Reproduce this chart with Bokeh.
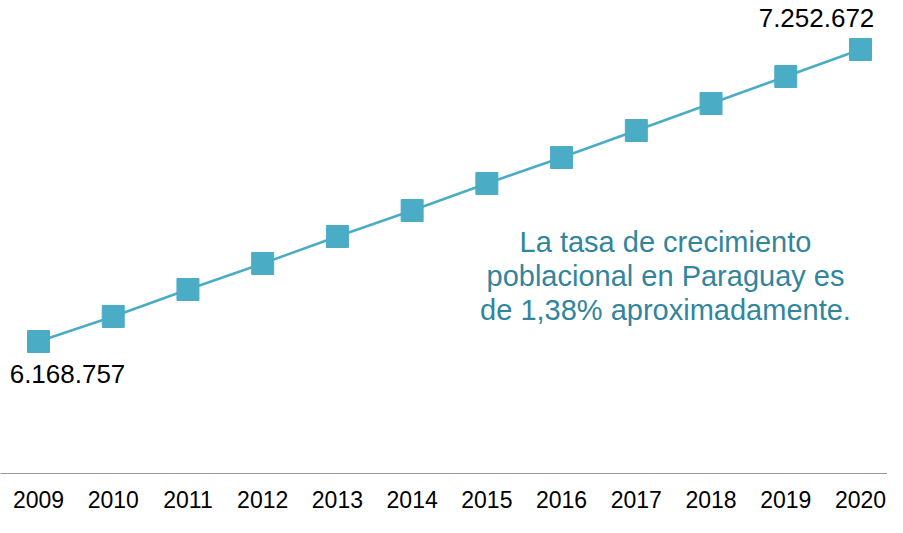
from bokeh.plotting import figure
from bokeh.models import Label, FixedTicker, Range1d
from bokeh.embed import file_html
from bokeh.resources import INLINE

years = [2009, 2010, 2011, 2012, 2013, 2014, 2015, 2016, 2017, 2018, 2019, 2020]
population = [6168757, 6261600, 6361800, 6458300, 6558500, 6655000,
              6755300, 6851800, 6952000, 7052200, 7152400, 7252672]
first_label = "6.168.757"
last_label = "7.252.672"
note_lines = ["La tasa de crecimiento",
              "poblacional en Paraguay es",
              "de 1,38% aproximadamente."]

LINE = "#4BACC6"
NOTE = "#31859C"
FONT = "Liberation Sans"

FRAME_H = 473

p = figure(width=887, height=517, output_backend="svg", toolbar_location=None,
           x_range=Range1d(2008.4915, 2020.3613), y_range=Range1d(5678773, 7434560),
           min_border_left=0, min_border_right=0, min_border_top=0, min_border_bottom=517 - FRAME_H)
p.outline_line_color = None
p.xgrid.visible = False
p.ygrid.visible = False
p.yaxis.visible = False
p.background_fill_color = "white"
p.border_fill_color = "white"

p.line(years, population, line_color=LINE, line_width=2.5)
p.scatter(years, population, marker="square", size=22, fill_color=LINE, line_color=LINE)

ax = p.xaxis[0]
ax.ticker = FixedTicker(ticks=years)
ax.major_tick_line_color = None
ax.minor_tick_line_color = None
ax.major_tick_in = 0
ax.major_tick_out = 0
ax.axis_line_color = "#9A9A9A"
ax.axis_line_width = 1.2
ax.major_label_text_font = FONT
ax.major_label_text_font_size = "23px"
ax.major_label_text_color = "black"
ax.major_label_standoff = 17

p.add_layout(Label(x=years[0], y=population[0], text=first_label, x_offset=29, y_offset=-32,
                   text_align="center", text_baseline="middle", text_font=FONT,
                   text_font_size="26px", text_color="black"))
p.add_layout(Label(x=years[-1], y=population[-1], text=last_label, x_offset=-44, y_offset=31,
                   text_align="center", text_baseline="middle", text_font=FONT,
                   text_font_size="26px", text_color="black"))

for i, line in enumerate(note_lines):
    p.add_layout(Label(x=665, y=FRAME_H - (241 + 34 * i), x_units="screen", y_units="screen", text=line,
                       text_align="center", text_baseline="middle", text_font=FONT,
                       text_font_size="29px", text_color=NOTE))

open("out.html", "w").write(file_html(p, INLINE))
